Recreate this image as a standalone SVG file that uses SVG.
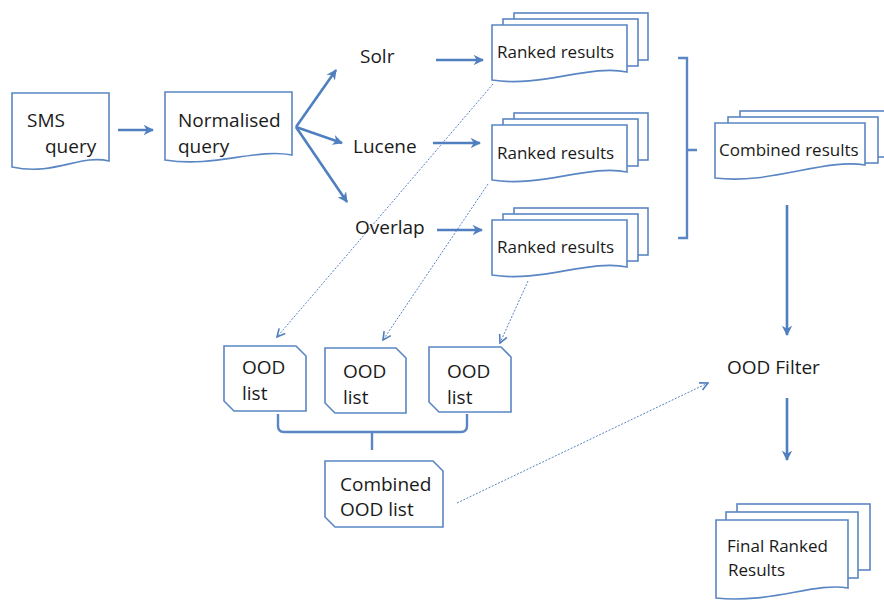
<svg xmlns="http://www.w3.org/2000/svg" width="884" height="601" viewBox="0 0 884 601">
<defs>
<marker id="ah" viewBox="0 0 10 10" refX="9" refY="5" markerWidth="4" markerHeight="4" orient="auto" markerUnits="strokeWidth">
<path d="M0,0 L10,5 L0,10 L3,5 Z" fill="#4f7fbf"/>
</marker>
<marker id="dh" viewBox="0 0 10 10" refX="9" refY="5" markerWidth="10" markerHeight="10" orient="auto" markerUnits="userSpaceOnUse">
<path d="M1,1 L9,5 L1,9" fill="none" stroke="#4f7fbf" stroke-width="1.6"/>
</marker>
</defs>
<style>
.s{fill:#fff;stroke:#5a86c3;stroke-width:1.6}
.t{font-family:"Open Sans","Liberation Sans",sans-serif;fill:#1a1a1a}
.a{fill:none;stroke:#4f7fbf;stroke-width:2.6;marker-end:url(#ah)}
.d{fill:none;stroke:#5a86c3;stroke-width:1;stroke-dasharray:2 1.5;marker-end:url(#dh)}
.b{fill:none;stroke:#5a86c3;stroke-width:2.4}
</style>
<rect width="884" height="601" fill="#fff"/>

<g id="connectors">
<line class="a" x1="118" y1="130" x2="153" y2="130"/>
<line class="a" x1="296" y1="127" x2="336" y2="70"/>
<line class="a" x1="296" y1="127" x2="342" y2="143"/>
<line class="a" x1="296" y1="127" x2="347" y2="202"/>
<line class="a" x1="436" y1="60" x2="483" y2="60"/>
<line class="a" x1="433" y1="143" x2="480" y2="143"/>
<line class="a" x1="437" y1="230" x2="482" y2="230"/>
<line class="a" x1="787" y1="205" x2="787" y2="335"/>
<line class="a" x1="787" y1="398" x2="787" y2="460"/>
<line class="d" x1="493" y1="84" x2="277" y2="337"/>
<line class="d" x1="488" y1="184" x2="383" y2="340"/>
<line class="d" x1="528" y1="281" x2="500" y2="343"/>
<line class="d" x1="457" y1="503" x2="708" y2="383"/>
<path class="b" d="M678,58 H687 V238 H678 M687,150 H697"/>
<path class="b" d="M278,414 V426 Q278,432 284,432 H461 Q467,432 467,426 V414 M372,432 V450"/>
</g>

<g id="sms">
<path class="s" d="M12,93 H109 V161 C80,154 55,176 12,167 Z"/>
<text class="t" x="27" y="127" font-size="19">SMS</text>
<text class="t" x="45" y="153" font-size="19">query</text>
</g>

<g id="normalised">
<path class="s" d="M165,92 H292 V155 C255,148 215,168 165,160 Z"/>
<text class="t" x="178" y="127" font-size="19">Normalised</text>
<text class="t" x="178" y="153" font-size="19">query</text>
</g>

<g id="solr"><text class="t" x="360" y="63" font-size="19">Solr</text></g>
<g id="lucene"><text class="t" x="353" y="153" font-size="19">Lucene</text></g>
<g id="overlap"><text class="t" x="355" y="234" font-size="19">Overlap</text></g>

<g id="ranked1">
<rect class="s" x="514" y="13" width="134" height="47"/>
<rect class="s" x="503" y="19" width="135" height="47"/>
<path class="s" d="M492,25 H627 V72 C590,64 540,88 492,80 Z"/>
<text class="t" x="497" y="58" font-size="17">Ranked results</text>
</g>

<g id="ranked2">
<rect class="s" x="514" y="113" width="134" height="47"/>
<rect class="s" x="503" y="119" width="135" height="47"/>
<path class="s" d="M492,125 H627 V172 C590,164 540,188 492,180 Z"/>
<text class="t" x="497" y="159" font-size="17">Ranked results</text>
</g>

<g id="ranked3">
<rect class="s" x="514" y="208" width="134" height="47"/>
<rect class="s" x="503" y="214" width="135" height="47"/>
<path class="s" d="M492,220 H627 V267 C590,259 540,283 492,275 Z"/>
<text class="t" x="497" y="253" font-size="17">Ranked results</text>
</g>

<g id="combined">
<rect class="s" x="740" y="111" width="150" height="46"/>
<rect class="s" x="728" y="117" width="150" height="46"/>
<path class="s" d="M715,123 H865 V165 C825,158 770,185 715,178 Z"/>
<text class="t" x="719" y="156" font-size="17">Combined results</text>
</g>

<g id="oodfilter"><text class="t" x="727" y="374" font-size="19">OOD Filter</text></g>

<g id="final">
<rect class="s" x="737" y="504" width="133" height="66"/>
<rect class="s" x="726" y="512" width="132" height="66"/>
<path class="s" d="M716,520 H848 V588 C815,582 770,604 716,598 Z"/>
<text class="t" x="727" y="552" font-size="17">Final Ranked</text>
<text class="t" x="728" y="576" font-size="17">Results</text>
</g>

<g id="ood1">
<path class="s" d="M224,346 H296 L306,356 V411 H234 L224,401 Z"/>
<text class="t" x="242" y="374" font-size="19">OOD</text>
<text class="t" x="242" y="400" font-size="19">list</text>
</g>
<g id="ood2">
<path class="s" d="M325,348 H396 L406,358 V413 H335 L325,403 Z"/>
<text class="t" x="343" y="378" font-size="19">OOD</text>
<text class="t" x="343" y="404" font-size="19">list</text>
</g>
<g id="ood3">
<path class="s" d="M429,347 H501 L511,357 V412 H439 L429,402 Z"/>
<text class="t" x="447" y="378" font-size="19">OOD</text>
<text class="t" x="447" y="404" font-size="19">list</text>
</g>

<g id="combinedood">
<path class="s" d="M325,461 H433 L443,471 V527 H335 L325,517 Z"/>
<text class="t" x="340" y="491" font-size="19">Combined</text>
<text class="t" x="340" y="516" font-size="19">OOD list</text>
</g>
</svg>
